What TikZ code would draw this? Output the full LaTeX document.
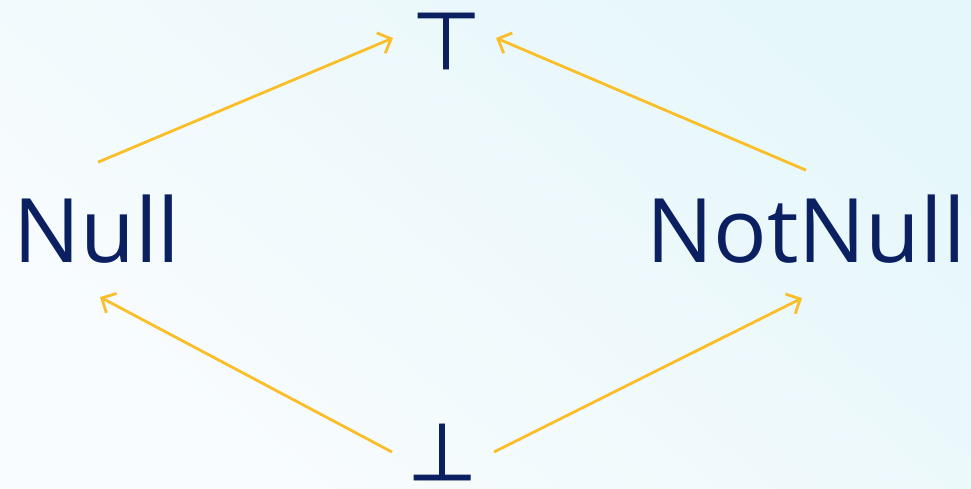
\documentclass[tikz,border=0pt]{standalone}
\usepackage{fontspec}
\setmainfont{Open Sans}
\newfontfamily\symfont[FakeBold=1.2]{DejaVu Sans}
\usetikzlibrary{arrows.meta}
\definecolor{navy}{RGB}{10,32,96}
\definecolor{amber}{RGB}{250,190,40}
\definecolor{bgA}{RGB}{249,252,254}
\definecolor{bgB}{RGB}{230,247,250}
\begin{document}
\begin{tikzpicture}[x=1pt,y=-1pt,
  lbl/.style={inner sep=0pt,anchor=base,text=navy,font=\fontsize{89}{89}\selectfont},
  sym/.style={inner sep=0pt,anchor=center,text=navy,font=\symfont\fontsize{80}{80}\selectfont},
  arr/.style={draw=amber,line width=2.8pt,-{Straight Barb[length=11pt,width=22pt,line width=2.8pt]}}]
\shade[bottom color=bgA,top color=bgB,shading angle=-40] (0,0) rectangle (971,489);
\useasboundingbox (0,0) rectangle (971,489);
\node[lbl] (null) at (97,262) {Null};
\node[lbl] (notnull) at (806,262) {NotNull};
\node[sym] (top) at (446,41) {⊤};
\node[sym] (bot) at (442,452) {⊥};
\draw[arr] ([shift={(1,-32)}]null.north) -- ([shift={(-18,-3)}]top.west);
\draw[arr] ([shift={(0,-24)}]notnull.north) -- ([shift={(15,-3)}]top.east);
\draw[arr] ([shift={(-15,0)}]bot.west) -- ([shift={(3,34)}]null.south);
\draw[arr] ([shift={(17,0)}]bot.east) -- ([shift={(-4,35)}]notnull.south);
\end{tikzpicture}
\end{document}
